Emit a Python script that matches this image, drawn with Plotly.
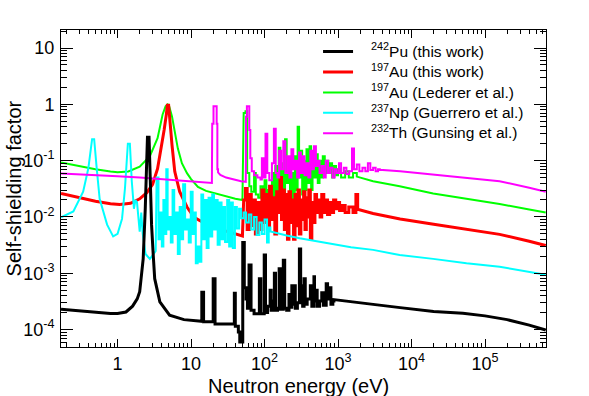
import plotly.graph_objects as go

# 242Pu (this work)
PU_LO_E = [0.17, 0.3, 0.5, 0.8, 1.0, 1.3, 1.6, 1.85, 2.0, 2.23, 2.38, 2.48, 2.55, 2.68, 2.75, 2.82, 2.9, 3.05, 3.2, 3.76, 5.1, 8.0, 13.0]
PU_LO_V = [2.3e-4, 2.15e-4, 2.0e-4, 1.92e-4, 1.92e-4, 2.05e-4, 2.6e-4, 3.5e-4, 4.7e-4, 1.8e-3, 0.014, 0.06, 0.26, 0.26, 0.06, 0.02, 7.3e-3, 2.2e-3, 8e-4, 3.1e-4, 1.8e-4, 1.5e-4, 1.4e-4]
PU_RES_E = [13, 14.0, 14.8, 20.0, 21.2, 38.8, 40.0, 44.0, 46.0, 50.5,
            53.0, 56.0, 58.5, 61.5, 65.5, 72, 85, 89, 99, 103,
            110, 119, 123, 130, 136, 141, 150, 158, 164, 180,
            188, 200, 215, 224, 235, 240, 255, 262, 280, 298,
            310, 320, 330, 345, 358, 380, 420, 440, 470, 478,
            500, 520, 560, 600, 630, 690, 720, 760, 800, 850]
PU_RES_V = [1.4e-4, 4.6e-4, 1.38e-4, 8e-4, 1.25e-4, 4.4e-4, 1.15e-4, 9e-5, 6e-5, 3.5e-3,
            5.5e-4, 3.5e-4, 2.4e-4, 1.4e-3, 2.2e-4, 1.9e-4, 8e-4, 1.9e-4, 2.1e-3, 2.0e-4,
            2.6e-4, 5e-4, 2.2e-4, 3.2e-4, 1.0e-3, 2.2e-4, 2.4e-4, 1.2e-3, 2.3e-4, 1.7e-3,
            2.4e-4, 2.2e-4, 4.2e-4, 2.5e-4, 6e-4, 2.8e-4, 6e-4, 2.4e-4, 3.0e-4, 2.7e-3,
            3.0e-4, 6e-4, 2.6e-4, 8e-4, 2.8e-4, 3.5e-4, 6e-4, 2.6e-4, 8.7e-4, 3.2e-4,
            5e-4, 2.6e-4, 3.2e-4, 4.5e-4, 2.7e-4, 6.5e-4, 3.5e-4, 5.5e-4, 2.8e-4, 3.2e-4]
PU_HI_E = [880, 1500, 3000, 7000, 20000, 50000, 100000, 200000, 400000, 670000]
PU_HI_V = [3.4e-4, 3.1e-4, 2.8e-4, 2.45e-4, 2.1e-4, 1.95e-4, 1.75e-4, 1.5e-4, 1.2e-4, 9.8e-5]

# 197Au (this work)
AU_LO_E = [0.17, 0.3, 0.5, 0.8, 1.07, 1.5, 2.0, 2.5, 3.0, 3.5, 4.0, 4.3, 4.6, 4.75, 4.95, 5.15, 5.5, 6.0, 7.0, 8.8, 11, 15, 20, 30, 40, 50]
AU_LO_V = [0.026, 0.022, 0.019, 0.0172, 0.0166, 0.0175, 0.021, 0.027, 0.038, 0.072, 0.19, 0.35, 0.65, 0.96, 0.96, 0.5, 0.19, 0.064, 0.028, 0.015, 0.0098, 0.0078, 0.0066, 0.0056, 0.005, 0.0046]
AU_RES_E = [52, 55, 58, 62, 66, 70, 75, 80, 86, 92,
            98, 104, 110, 117, 124, 131, 138, 146, 154, 162,
            170, 178, 186, 195, 205, 215, 226, 237, 248, 260,
            272, 285, 298, 312, 326, 340, 355, 370, 385, 400,
            420, 440, 460, 485, 510, 540, 570, 600, 640, 680,
            720, 770, 820, 870, 930, 990, 1050, 1150, 1250, 1400,
            1600, 1750, 1850]
AU_RES_V = [0.02, 0.032, 0.006, 0.025, 0.007, 0.02, 0.005, 0.018, 0.006, 0.03,
            0.008, 0.025, 0.006, 0.035, 0.009, 0.022, 0.005, 0.028, 0.012, 0.05,
            0.009, 0.03, 0.006, 0.025, 0.004, 0.028, 0.008, 0.02, 0.004, 0.025,
            0.007, 0.03, 0.005, 0.02, 0.009, 0.028, 0.006, 0.022, 0.01, 0.03,
            0.004, 0.018, 0.008, 0.025, 0.012, 0.02, 0.01, 0.025, 0.012, 0.02,
            0.011, 0.018, 0.012, 0.02, 0.014, 0.018, 0.013, 0.016, 0.012, 0.015,
            0.012, 0.025, 0.0135]
AU_HI_E = [1900, 3000, 7000, 20000, 56000, 158000, 400000, 670000]
AU_HI_V = [0.0135, 0.0115, 0.0092, 0.0074, 0.006, 0.0049, 0.0037, 0.0031]

# 197Au (Lederer et al.)
LED_LO_E = [0.17, 0.3, 0.5, 0.8, 1.0, 1.4, 2.0, 2.75, 3.5, 4.1, 4.5, 4.8, 5.0, 5.5, 6.0, 6.6, 7.5, 8.8, 10, 12.4, 16, 22, 30, 40, 50]
LED_LO_V = [0.093, 0.08, 0.07, 0.064, 0.062, 0.064, 0.078, 0.12, 0.25, 0.66, 0.92, 1.0, 0.95, 0.61, 0.3, 0.165, 0.09, 0.06, 0.047, 0.034, 0.029, 0.026, 0.023, 0.021, 0.02]
LED_RES_E = [52, 55, 58, 62, 66, 72, 76, 82, 88, 94,
             100, 106, 112, 118, 126, 133, 140, 148, 156, 164,
             172, 180, 190, 200, 210, 222, 234, 246, 258, 270,
             282, 295, 310, 325, 340, 355, 372, 390, 410, 430,
             450, 475, 500, 530, 560, 590, 620, 660, 700, 740,
             780, 830, 880, 940, 1000, 1100, 1250, 1400, 1600]
LED_RES_V = [0.7, 0.75, 0.06, 0.035, 0.028, 0.06, 0.025, 0.022, 0.035, 0.02,
             0.045, 0.02, 0.03, 0.018, 0.06, 0.02, 0.08, 0.025, 0.17, 0.03,
             0.09, 0.022, 0.24, 0.04, 0.1, 0.018, 0.06, 0.02, 0.12, 0.03,
             0.4, 0.05, 0.15, 0.025, 0.1, 0.03, 0.16, 0.04, 0.18, 0.03,
             0.12, 0.05, 0.13, 0.04, 0.1, 0.05, 0.12, 0.06, 0.1, 0.06,
             0.09, 0.05, 0.08, 0.055, 0.07, 0.05, 0.065, 0.05, 0.06]
LED_HI_E = [1800, 3000, 6900, 19700, 56000, 158000, 400000, 670000]
LED_HI_V = [0.052, 0.043, 0.035, 0.026, 0.021, 0.017, 0.0135, 0.012]

# 237Np (Guerrero et al.)
NP_LO_E = [0.17, 0.25, 0.34, 0.40, 0.45, 0.48, 0.52, 0.57, 0.72, 0.87, 1.0, 1.15, 1.26, 1.38, 1.47, 1.56, 1.67, 1.75, 1.84, 1.92, 2.0, 2.1, 2.2, 2.4, 2.75, 3.1, 3.3]
NP_LO_V = [0.0098, 0.0125, 0.028, 0.073, 0.24, 0.24, 0.073, 0.021, 0.0073, 0.0045, 0.005, 0.0093, 0.032, 0.2, 0.2, 0.043, 0.014, 0.02, 0.018, 0.009, 0.0055, 0.012, 0.005, 0.0022, 0.0018, 0.0022, 0.0025]
NP_RES_E = [3.4, 3.6, 3.8, 4.0, 4.2, 4.4, 4.6, 4.8, 5.0, 5.3,
            5.6, 5.9, 6.2, 6.6, 7.0, 7.4, 7.8, 8.3, 8.8, 9.3,
            9.9, 10.5, 11.0, 11.6, 12.3, 13.0, 13.8, 14.6, 15.4, 16.3,
            17.3, 18.3, 19.4, 20.5, 21.8, 23.0, 24.5, 26, 27.5, 29,
            31, 33, 35, 37, 39.5, 42, 45, 48, 52, 56,
            61, 66, 72, 78, 85, 92, 100, 108, 114]
NP_RES_V = [0.05, 0.004, 0.012, 0.003, 0.02, 0.005, 0.07, 0.006, 0.01, 0.0035,
            0.03, 0.005, 0.012, 0.0022, 0.015, 0.004, 0.038, 0.006, 0.009, 0.0035,
            0.028, 0.005, 0.012, 0.0015, 0.003, 0.0016, 0.025, 0.004, 0.02, 0.0028,
            0.022, 0.0045, 0.025, 0.006, 0.02, 0.0032, 0.018, 0.004, 0.015, 0.0036,
            0.02, 0.003, 0.018, 0.0028, 0.015, 0.0062, 0.014, 0.0095, 0.012, 0.008,
            0.011, 0.006, 0.01, 0.0048, 0.008, 0.005, 0.009, 0.0035, 0.0065]
NP_HI_E = [120, 140, 200, 300, 500, 850, 1500, 3000, 6900, 19700, 56000, 158000, 400000, 670000]
NP_HI_V = [0.0055, 0.0052, 0.0047, 0.0042, 0.0037, 0.0033, 0.0029, 0.0026, 0.0021, 0.0018, 0.0015, 0.0013, 0.00105, 0.00094]

# 232Th (Gunsing et al.)
TH_LO_E = [0.17, 0.5, 1, 2, 5, 10, 15, 19.2]
TH_LO_V = [0.059, 0.056, 0.053, 0.05, 0.046, 0.043, 0.041, 0.04]
TH_RES1_E = [19.4, 20.2, 22.3, 22.8]
TH_RES1_V = [0.45, 0.92, 0.45, 0.07]
TH_MID_E = [23.3, 25, 30, 38, 48, 55.5]
TH_MID_V = [0.062, 0.056, 0.05, 0.046, 0.043, 0.042]
TH_RES2_E = [56, 57.5, 62, 64, 67, 72, 80, 88, 92, 98,
             103, 109, 116, 126, 134, 142, 150, 158, 168, 180,
             192, 205, 218, 232, 246, 262, 278, 295, 312, 330,
             350, 372, 395, 420, 445, 470, 500, 530, 560, 600,
             640, 680, 730, 780, 840, 900, 960, 1030, 1100, 1200,
             1300, 1420, 1550, 1650, 1800, 1950, 2150, 2350, 2550, 2750,
             3000, 3250, 3500]
TH_RES2_V = [0.6, 0.92, 0.35, 0.11, 0.065, 0.055, 0.05, 0.046, 0.11, 0.05,
             0.3, 0.06, 0.045, 0.09, 0.37, 0.06, 0.05, 0.15, 0.07, 0.22,
             0.06, 0.12, 0.05, 0.16, 0.07, 0.1, 0.05, 0.14, 0.06, 0.12,
             0.055, 0.09, 0.05, 0.15, 0.07, 0.18, 0.08, 0.1, 0.06, 0.08,
             0.05, 0.1, 0.06, 0.075, 0.05, 0.07, 0.06, 0.09, 0.06, 0.075,
             0.058, 0.065, 0.165, 0.07, 0.085, 0.065, 0.075, 0.065, 0.09, 0.068,
             0.075, 0.065, 0.07]
TH_HI_E = [3700, 7000, 20000, 56000, 158000, 400000, 670000]
TH_HI_V = [0.069, 0.065, 0.057, 0.05, 0.043, 0.033, 0.028]

X_TICKS = [1, 10, 100, 1e3, 1e4, 1e5]
X_TEXT = ["1", "10", "10<sup>2</sup>", "10<sup>3</sup>", "10<sup>4</sup>", "10<sup>5</sup>"]
Y_TICKS = [1e-4, 1e-3, 1e-2, 1e-1, 1, 10]
Y_TEXT = ["10<sup>-4</sup>", "10<sup>-3</sup>", "10<sup>-2</sup>", "10<sup>-1</sup>", "1", "10"]


def steps(edges, vals, end):
    # histogram bins -> step outline
    xs, ys = [], []
    rights = edges[1:] + [end]
    for e0, e1, v in zip(edges, rights, vals):
        xs += [e0, e1]
        ys += [v, v]
    return xs, ys


def join(*parts):
    xs, ys = [], []
    for px, py in parts:
        xs += list(px)
        ys += list(py)
    return xs, ys


pu = join((PU_LO_E, PU_LO_V), steps(PU_RES_E, PU_RES_V, 880), (PU_HI_E, PU_HI_V))
au = join((AU_LO_E, AU_LO_V), steps(AU_RES_E, AU_RES_V, 1900), (AU_HI_E, AU_HI_V))
led = join((LED_LO_E, LED_LO_V), steps(LED_RES_E, LED_RES_V, 1800), (LED_HI_E, LED_HI_V))
np_ = join((NP_LO_E, NP_LO_V), steps(NP_RES_E, NP_RES_V, 120), (NP_HI_E, NP_HI_V))
th = join((TH_LO_E, TH_LO_V), steps(TH_RES1_E, TH_RES1_V, 23.3), (TH_MID_E, TH_MID_V),
          steps(TH_RES2_E, TH_RES2_V, 3700), (TH_HI_E, TH_HI_V))


def label(txt):
    # legend font kept small so rows sit ~21px apart; the text itself is a bit bigger
    return '<span style="font-size:15.5px">\u00a0\u00a0\u00a0' + txt + "</span>"


series = [
    (led, "#00ff00", 2, label("<sup>197</sup>Au (Lederer et al.)"), 3),
    (au, "#ff0000", 3, label("<sup>197</sup>Au (this work)"), 2),
    (np_, "#00ffff", 2, label("<sup>237</sup>Np (Guerrero et al.)"), 4),
    (th, "#ff00ff", 2, label("<sup>232</sup>Th (Gunsing et al.)"), 5),
    (pu, "#000000", 3, label("<sup>242</sup>Pu (this work)"), 1),
]

fig = go.Figure()
for (xs, ys), color, width, name, rank in series:
    fig.add_trace(go.Scatter(x=xs, y=ys, mode="lines", name=name, legendrank=rank,
                             line=dict(color=color, width=width)))

minor_x = [k * 10 ** n for n in range(-1, 6) for k in range(2, 10)]
minor_y = [k * 10 ** n for n in range(-5, 2) for k in range(2, 10)]

font = "Liberation Sans, Arial, Helvetica, sans-serif"
fig.update_layout(
    width=589, height=396,
    margin=dict(l=61, r=43, t=30, b=49),
    paper_bgcolor="white", plot_bgcolor="white",
    font=dict(family=font, color="black"),
    showlegend=True,
    legend=dict(x=0.53, y=0.98, xanchor="left", yanchor="top",
                bgcolor="rgba(0,0,0,0)", font=dict(size=13.4), itemwidth=30),
    annotations=[
        dict(text="Neutron energy (eV)", xref="paper", yref="paper",
             x=0.489, y=-0.124, xanchor="center", yanchor="middle",
             showarrow=False, font=dict(size=20)),
        dict(text="Self-shielding factor", xref="paper", yref="paper",
             x=-0.097, y=0.5, xanchor="center", yanchor="middle",
             textangle=-90, showarrow=False, font=dict(size=20)),
    ],
)
fig.update_xaxes(
    type="log", range=[-0.77, 5.83], automargin=False,
    tickmode="array", tickvals=X_TICKS, ticktext=X_TEXT,
    ticks="inside", ticklen=8, tickcolor="black",
    showline=True, linecolor="black", linewidth=1, mirror="allticks",
    showgrid=False, zeroline=False, tickfont=dict(size=18), ticklabelstandoff=0,
    minor=dict(tickmode="array", tickvals=minor_x, ticks="inside", ticklen=4,
               tickcolor="black", showgrid=False),
)
fig.update_yaxes(
    type="log", range=[-4.31, 1.32], automargin=False,
    tickmode="array", tickvals=Y_TICKS, ticktext=Y_TEXT,
    ticks="inside", ticklen=12, tickcolor="black",
    showline=True, linecolor="black", linewidth=1, mirror="allticks",
    showgrid=False, zeroline=False, tickfont=dict(size=18), ticklabelstandoff=2,
    minor=dict(tickmode="array", tickvals=minor_y, ticks="inside", ticklen=6,
               tickcolor="black", showgrid=False),
)

# the page's default body margin would shift the fixed-size figure
fig.write_html("out.html", config={"displayModeBar": False},
               post_script="document.body.style.margin='0';")
